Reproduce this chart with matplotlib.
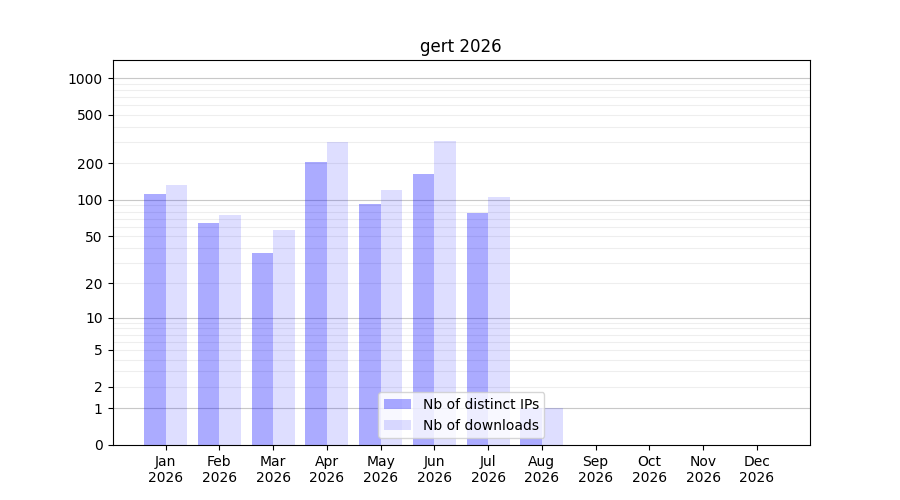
import numpy as np
import matplotlib
matplotlib.use("Agg")
import matplotlib.pyplot as plt

# Data
months = ["Jan", "Feb", "Mar", "Apr", "May", "Jun",
          "Jul", "Aug", "Sep", "Oct", "Nov", "Dec"]
year = 2026
distinct_ips = [112, 64, 36, 205, 92, 163, 78, 1, 0, 0, 0, 0]
downloads = [133, 75, 56, 299, 121, 305, 106, 1, 0, 0, 0, 0]
ytick_values = [0, 1, 2, 5, 10, 20, 50, 100, 200, 500, 1000]


def fwd(y):
    return np.log10(1 + np.clip(y, 0, None))


def inv(y):
    return 10 ** y - 1


fig, ax = plt.subplots(figsize=(9, 5), dpi=100)
ax.set_yscale("function", functions=(fwd, inv))

x = np.arange(len(months))
w = 0.4
ax.bar(x - w / 2, distinct_ips, w, color="blue", alpha=0.33,
       label="Nb of distinct IPs")
ax.bar(x + w / 2, downloads, w, color="blue", alpha=0.13,
       label="Nb of downloads")

ax.set_ylim(0, 1405)
ax.set_yticks(ytick_values)
ax.set_yticklabels([str(v) for v in ytick_values])
ax.minorticks_off()

# grid: decades darker, intermediate levels lighter
for dec in [1, 10, 100]:
    for k in range(2, 10):
        ax.axhline(dec * k, color="#eeeeee", linewidth=0.8, zorder=0.5)
for dec in [1, 10, 100, 1000]:
    ax.axhline(dec, color="#c8c8c8", linewidth=0.8, zorder=0.5)

ax.set_xticks(x)
ax.set_xticklabels([f"{m}\n{year}" for m in months])
ax.set_title(f"gert {year}")
ax.legend(loc="lower center")

fig.savefig("out.png", dpi=100)
